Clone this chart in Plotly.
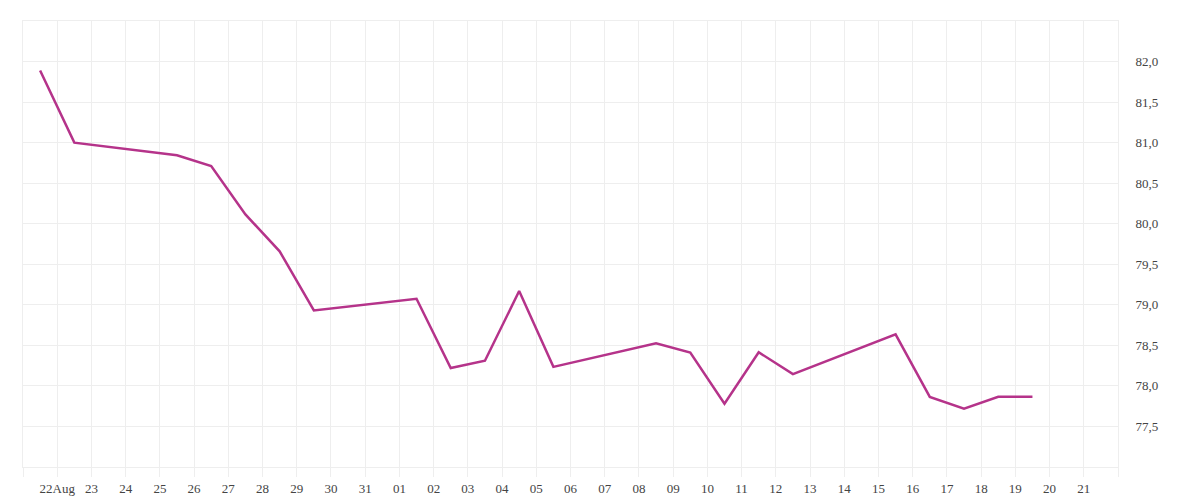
import pandas as pd
import plotly.graph_objects as go

# daily values (weekends missing), plotted at midday
dates = [
    "2014-08-21 12:00", "2014-08-22 12:00", "2014-08-25 12:00", "2014-08-26 12:00",
    "2014-08-27 12:00", "2014-08-28 12:00", "2014-08-29 12:00", "2014-09-01 12:00",
    "2014-09-02 12:00", "2014-09-03 12:00", "2014-09-04 12:00", "2014-09-05 12:00",
    "2014-09-08 12:00", "2014-09-09 12:00", "2014-09-10 12:00", "2014-09-11 12:00",
    "2014-09-12 12:00", "2014-09-15 12:00", "2014-09-16 12:00", "2014-09-17 12:00",
    "2014-09-18 12:00", "2014-09-19 12:00",
]
values = [
    81.89, 81.00, 80.845, 80.71,
    80.115, 79.66, 78.93, 79.075,
    78.22, 78.31, 79.17, 78.235,
    78.525, 78.41, 77.78, 78.415,
    78.145, 78.635, 77.865, 77.72,
    77.865, 77.865,
]

x_tick_labels = [
    "", "22Aug", "23", "24", "25", "26", "27", "28", "29", "30", "31",
    "01", "02", "03", "04", "05", "06", "07", "08", "09", "10",
    "11", "12", "13", "14", "15", "16", "17", "18", "19", "20", "21", "",
]
y_tick_values = [77.5, 78.0, 78.5, 79.0, 79.5, 80.0, 80.5, 81.0, 81.5, 82.0]

x_tick_values = pd.date_range("2014-08-21", "2014-09-22", freq="D")

GRID = "#eeeeee"
FONT = dict(family="Liberation Serif", size=13, color="#444444")

fig = go.Figure()
fig.add_trace(go.Scatter(
    x=pd.to_datetime(dates),
    y=values,
    mode="lines",
    line=dict(color="#b5338a", width=2.5),
    hoverinfo="x+y",
))

fig.update_xaxes(
    range=[x_tick_values[0], x_tick_values[-1]],
    tickmode="array",
    tickvals=x_tick_values,
    ticktext=x_tick_labels,
    showgrid=True,
    gridcolor=GRID,
    gridwidth=1,
    ticks="outside",
    ticklen=9,
    tickcolor=GRID,
    showline=True,
    mirror=True,
    linecolor=GRID,
    linewidth=1,
    zeroline=False,
    tickfont=FONT,
)
fig.update_yaxes(
    range=[77.0, 82.5],
    side="right",
    tickmode="array",
    tickvals=y_tick_values,
    tickformat=".1f",
    showgrid=True,
    gridcolor=GRID,
    gridwidth=1,
    ticks="",
    ticklabelstandoff=14,
    showline=True,
    mirror=True,
    linecolor=GRID,
    linewidth=1,
    zeroline=False,
    tickfont=FONT,
)

fig.update_layout(
    width=1200,
    height=500,
    margin=dict(l=15, r=90, t=13, b=41),
    plot_bgcolor="white",
    paper_bgcolor="white",
    separators=", ",
    showlegend=False,
    font=FONT,
)

fig.write_html("out.html")
